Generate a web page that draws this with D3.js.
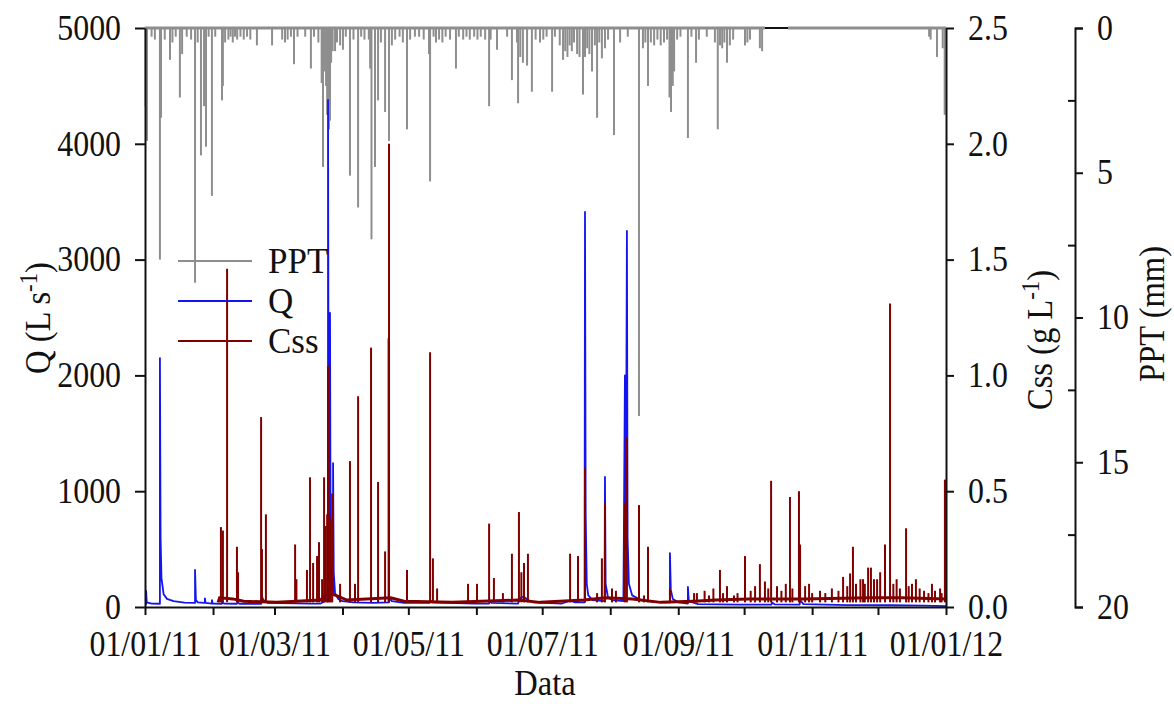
<!DOCTYPE html>
<html>
<head>
<meta charset="utf-8">
<script src="https://cdn.jsdelivr.net/npm/d3@7/dist/d3.min.js"></script>
<style>
  body { margin: 0; background: #fff; }
  svg text { font-family: 'Liberation Serif', 'Times New Roman', serif; fill: #111; }
  .axis path, .axis line { stroke: #111; stroke-width: 2; }
</style>
</head>
<body>
<div id="chart"></div>
<script>
'use strict';

// all x values are days since 01/01/11 (fractional = part of the day)

// discharge Q (L s-1), read point by point off the hydrograph
var qPoints = [
    [0, 25], [0.5, 25], [0.5, 138], [0.8, 40], [3, 30], [6.8, 28], [6.8, 2150], [7.1, 600],
    [7.5, 250], [8.5, 110], [10, 70], [13, 50], [18, 38], [22.8, 35], [22.8, 320], [23.2, 60],
    [24, 40], [27.3, 35], [27.3, 75], [27.6, 35], [30.5, 30], [30.5, 60], [30.8, 30], [35, 28],
    [35.1, 40], [36, 30], [41.9, 28], [42.2, 45], [43, 28], [53, 28], [53.3, 90], [54, 60],
    [56, 35], [75, 30], [80, 30], [81.5, 45], [82.5, 60], [83.4, 60], [83.4, 4380], [83.7, 900],
    [84.1, 300], [84.3, 2540], [84.6, 400], [85.2, 150], [85.7, 120], [85.7, 1243], [86, 300],
    [86.6, 120], [88, 70], [90, 50], [95, 40], [104, 35], [111.2, 40], [111.6, 80], [112.5, 50],
    [118, 35], [129.5, 35], [129.9, 60], [131, 40], [150, 30], [156.8, 30], [157, 50], [158, 35],
    [170, 30], [170.4, 70], [172.5, 90], [174.5, 60], [177, 40], [190, 30], [193.7, 55], [196, 40],
    [200.3, 40], [200.5, 3411], [200.8, 800], [201.3, 200], [202, 100], [204, 60], [209.4, 50],
    [209.6, 1123], [209.9, 200], [211, 80], [213, 60], [218, 50], [218.7, 2000], [219.1, 500],
    [219.6, 3247], [219.9, 600], [220.5, 200], [222, 100], [226, 60], [232, 45], [239.2, 40],
    [239.2, 466], [239.6, 150], [240.5, 70], [243, 40], [247.4, 30], [247.4, 173], [247.8, 50],
    [252, 25], [270, 20], [285.5, 20], [285.7, 40], [287, 22], [298.3, 20], [298.5, 60],
    [300, 25], [320, 17], [340, 15], [355, 12], [365, 8]
];

// suspended sediment Css (g L-1): slow baseline + storm peaks
var cssBase = [
    [33.3, 0.02], [34, 0.04], [40, 0.035], [45, 0.025], [60, 0.02], [80, 0.03], [83, 0.06],
    [87, 0.05], [92, 0.03], [112, 0.04], [118, 0.025], [140, 0.02], [170, 0.03], [180, 0.02],
    [200, 0.03], [210, 0.04], [222, 0.035], [235, 0.02], [250, 0.025], [260, 0.03], [275, 0.035],
    [300, 0.035], [330, 0.04], [345, 0.04], [365, 0.035]
];
var cssPeaks = [
    [34.6, 0.345], [35.5, 0.33], [37.4, 1.46], [41.9, 0.26], [42.4, 0.15], [52.9, 0.82],
    [53.3, 0.25], [55.1, 0.40], [68.4, 0.27], [69.0, 0.12], [73.8, 0.16], [75.2, 0.56],
    [76.6, 0.19], [78.4, 0.22], [79.3, 0.28], [80.7, 0.12], [81.6, 0.56], [82.3, 0.35],
    [83.0, 0.40], [83.4, 1.04], [84.0, 0.40], [84.6, 0.38], [85.3, 0.49], [88.9, 0.10],
    [93.4, 0.63], [95.7, 0.10], [97.1, 0.91], [103.0, 1.12], [106.2, 0.54], [109.4, 0.24],
    [111.0, 1.16], [111.2, 2.0], [119.4, 0.16], [129.9, 1.10], [131.2, 0.21], [133.1, 0.08],
    [147.2, 0.10], [151.3, 0.10], [156.8, 0.36], [159.0, 0.125], [163.1, 0.06], [167.2, 0.23],
    [170.4, 0.41], [171.5, 0.15], [172.7, 0.19], [174.5, 0.23], [193.7, 0.23], [197.3, 0.22],
    [200.5, 0.60], [206.0, 0.06], [208.2, 0.21], [209.6, 0.45], [212.8, 0.08], [214.6, 0.07],
    [218.7, 0.45], [219.6, 0.73], [225.1, 0.44], [227.4, 0.05], [229.2, 0.26], [239.2, 0.08],
    [250.2, 0.06], [251.5, 0.06], [255, 0.07], [257, 0.05], [259, 0.08], [262.0, 0.16],
    [263.4, 0.06], [265.2, 0.09], [268.4, 0.05], [270, 0.06], [273.4, 0.22], [276, 0.07],
    [278, 0.09], [280.2, 0.185], [282.5, 0.11], [284, 0.08], [285.3, 0.545], [288.0, 0.09],
    [290, 0.07], [292, 0.10], [293.9, 0.475], [295, 0.08], [298.0, 0.50], [298.5, 0.27],
    [300.8, 0.09], [302.6, 0.10], [304, 0.06], [307.6, 0.07], [310, 0.06], [313, 0.08],
    [316, 0.07], [318.1, 0.13], [320, 0.09], [321.3, 0.145], [322.6, 0.26], [324, 0.10],
    [326, 0.12], [327.2, 0.12], [328, 0.10], [329.5, 0.17], [330.8, 0.17], [332.2, 0.12],
    [333.6, 0.12], [335, 0.15], [337.2, 0.27], [339.5, 1.31], [341, 0.10], [342.5, 0.12],
    [344.0, 0.08], [346.8, 0.34], [348, 0.09], [349.5, 0.10], [351.3, 0.12], [353, 0.08],
    [355, 0.07], [357, 0.06], [358.6, 0.10], [360, 0.07], [362.3, 0.08], [363, 0.06], [364.5, 0.55]
];

// precipitation PPT (mm), hanging from the top axis
var pptBars = [
    [0.3, 2.7], [0.9, 3.9], [3, 0.3], [4.5, 0.4], [6.8, 8.0], [7.3, 3.1], [9, 0.4], [11.4, 1.1],
    [12.5, 0.5], [14, 0.3], [15.9, 2.4], [16.9, 0.9], [19, 0.3], [21, 0.4], [22.8, 8.8], [24, 0.5],
    [25.5, 4.4], [26.9, 2.7], [27.8, 4.1], [29, 0.3], [30.5, 5.8], [32, 0.3], [35.1, 2.5],
    [35.5, 2.0], [36.5, 0.5], [38, 0.4], [39, 0.3], [40, 0.5], [41, 0.3], [42, 0.4], [43.5, 0.3],
    [45, 0.4], [46.5, 0.3], [48, 0.4], [51.0, 0.6], [57.9, 0.6], [62.5, 0.4], [63.8, 0.5],
    [65, 0.4], [66.5, 0.3], [67.9, 1.25], [69.5, 0.3], [73, 0.3], [75.6, 1.4], [77, 0.3],
    [79, 0.5], [80.5, 1.9], [81.1, 4.8], [81.8, 1.5], [82.5, 2.0], [83.0, 3.0], [83.4, 2.5],
    [83.8, 3.5], [84.3, 3.2], [84.8, 1.2], [85.5, 0.8], [86.6, 0.8], [87.5, 0.5], [88.9, 0.6],
    [90.2, 0.75], [91.5, 0.3], [93.4, 5.1], [95, 0.4], [97.1, 6.2], [98.5, 0.3], [100, 0.4],
    [102, 0.4], [102.6, 1.4], [103.2, 7.3], [104.8, 4.8], [106.2, 2.5], [107.5, 0.5], [109.4, 2.9],
    [111.2, 3.9], [112.5, 0.6], [114, 0.4], [116, 0.3], [117.5, 0.5], [119.4, 3.5], [120.8, 0.4],
    [123, 0.3], [124.9, 0.3], [127, 0.4], [129.4, 0.9], [129.9, 5.3], [131.5, 0.3], [132.6, 0.5],
    [134, 0.4], [135.5, 0.5], [137, 0.3], [139, 0.4], [141.7, 1.4], [143, 0.3], [145, 0.4],
    [146.5, 0.3], [148, 0.4], [150, 0.3], [151.5, 0.4], [153, 0.3], [155, 0.4], [156.8, 2.7],
    [157.5, 0.4], [160.4, 0.75], [165, 0.3], [167.2, 1.8], [169.5, 0.5], [170, 2.6], [171, 1.0],
    [172.2, 1.2], [174.1, 1.3], [176.3, 2.2], [178, 0.4], [180, 0.5], [181.5, 0.4], [183, 0.3],
    [185.5, 2.2], [186.8, 0.3], [189, 0.6], [190.5, 1.1], [191.5, 0.8], [192.5, 1.0], [193.5, 0.6],
    [194.5, 0.8], [195.5, 0.5], [196.9, 0.9], [198, 1.0], [199.6, 2.3], [200.5, 1.0], [201.5, 0.7],
    [202.5, 0.9], [203.7, 1.5], [205, 0.6], [206.0, 3.1], [207, 0.5], [208.2, 1.05], [209.6, 0.7],
    [211, 0.4], [213.7, 3.7], [216.5, 0.5], [220, 0.3], [225.1, 13.4], [226.9, 0.7], [228, 0.5],
    [229.2, 2.0], [230.5, 0.5], [232, 0.6], [233.5, 0.4], [235, 0.6], [236.5, 0.5], [237.9, 0.4],
    [239, 2.4], [239.7, 2.9], [240.5, 2.0], [241.1, 1.5], [242.5, 0.4], [244, 0.3], [247.4, 3.8],
    [249, 0.3], [251.1, 1.2], [252.4, 0.4], [256, 0.3], [259.7, 0.5], [261.0, 3.5], [262, 0.6],
    [263, 0.7], [264, 0.5], [265.2, 1.2], [266.5, 0.6], [268, 0.4], [273.4, 0.6], [274.5, 0.5],
    [275.7, 0.4], [280.2, 0.7], [281.2, 0.8], [357.3, 0.3], [358.0, 0.4], [360.9, 1.0],
    [363.5, 0.7], [364.4, 3.0]
];
// stretches where the PPT record sits on zero (the gap shows the black frame)
var pptZero = [[0, 282.5], [293, 365]];

var qTicks = [0, 1000, 2000, 3000, 4000, 5000];
var cssTicks = [0, 0.5, 1.0, 1.5, 2.0, 2.5];
var pptTicks = [0, 5, 10, 15, 20];
var pptMinorTicks = [2.5, 7.5, 12.5, 17.5];
var dateLabels = ['01/01/11', '01/03/11', '01/05/11', '01/07/11', '01/09/11', '01/11/11', '01/01/12'];

var colors = {ppt: '#8e8e8e', q: '#1414f0', css: '#800000'};

var width = 1174, height = 704;
var margin = {top: 28, left: 145, right: 946, bottom: 607};

var svg = d3.select('#chart')
    .append('svg')
        .attr('width', width)
        .attr('height', height);

var t0 = new Date(2011, 0, 1),
    t1 = new Date(2012, 0, 1);
var dayToDate = function(d) { return new Date(t0.getTime() + d * 864e5); };
var parseLabel = d3.timeParse('%d/%m/%y');

var x = d3.scaleTime().domain([t0, t1]).range([margin.left, margin.right]);
var yQ = d3.scaleLinear().domain([0, 5000]).range([margin.bottom, margin.top]);
var yCss = d3.scaleLinear().domain([0, 2.5]).range([margin.bottom, margin.top]);
var yPpt = d3.scaleLinear().domain([0, 20]).range([margin.top, margin.bottom]);

// the original lettering is a little narrower than Liberation Serif
var squeeze = function(sel, k) {
    sel.each(function() {
        var w = this.getComputedTextLength();
        d3.select(this)
            .attr('textLength', w * k)
            .attr('lengthAdjust', 'spacingAndGlyphs');
    });
};

// top frame (only seen where PPT is missing)
svg.append('line')
    .attr('x1', margin.left).attr('x2', margin.right)
    .attr('y1', margin.top).attr('y2', margin.top)
    .attr('stroke', '#111').attr('stroke-width', 2);

// PPT: zero line and bars
svg.append('g').selectAll('line')
    .data(pptZero)
    .enter().append('line')
        .attr('x1', function(d) { return x(dayToDate(d[0])); })
        .attr('x2', function(d) { return x(dayToDate(d[1])); })
        .attr('y1', yPpt(0)).attr('y2', yPpt(0))
        .attr('stroke', colors.ppt).attr('stroke-width', 3);

svg.append('g').selectAll('line')
    .data(pptBars)
    .enter().append('line')
        .attr('x1', function(d) { return x(dayToDate(d[0])); })
        .attr('x2', function(d) { return x(dayToDate(d[0])); })
        .attr('y1', yPpt(0))
        .attr('y2', function(d) { return yPpt(d[1]); })
        .attr('stroke', colors.ppt).attr('stroke-width', 2);

// Q
var qLine = d3.line()
    .x(function(d) { return x(dayToDate(d[0])); })
    .y(function(d) { return yQ(d[1]); });

svg.append('path')
    .datum(qPoints)
    .attr('d', qLine)
    .attr('fill', 'none')
    .attr('stroke', colors.q)
    .attr('stroke-width', 1.8)
    .attr('stroke-linejoin', 'round');

// Css
var cssLine = d3.line()
    .x(function(d) { return x(dayToDate(d[0])); })
    .y(function(d) { return yCss(d[1]); });

svg.append('path')
    .datum(cssBase)
    .attr('d', cssLine)
    .attr('fill', 'none')
    .attr('stroke', colors.css)
    .attr('stroke-width', 3);

svg.append('g').selectAll('line')
    .data(cssPeaks)
    .enter().append('line')
        .attr('x1', function(d) { return x(dayToDate(d[0])); })
        .attr('x2', function(d) { return x(dayToDate(d[0])); })
        .attr('y1', yCss(0.02))
        .attr('y2', function(d) { return yCss(d[1]); })
        .attr('stroke', colors.css).attr('stroke-width', 2);

// axes
var fontSize = 35;

svg.append('g')
    .attr('class', 'axis')
    .attr('transform', 'translate(' + margin.left + ',0)')
    .call(d3.axisLeft(yQ).tickValues(qTicks).tickFormat(d3.format('d'))
        .tickSize(10).tickSizeOuter(0).tickPadding(14));

svg.append('g')
    .attr('class', 'axis')
    .attr('transform', 'translate(' + margin.right + ',0)')
    .call(d3.axisRight(yCss).tickValues(cssTicks).tickFormat(d3.format('.1f'))
        .tickSize(8).tickSizeOuter(0).tickPadding(14));

var pptX = 1075;
svg.append('g')
    .attr('class', 'axis')
    .attr('transform', 'translate(' + pptX + ',0)')
    .call(d3.axisRight(yPpt).tickValues(pptTicks).tickSize(8).tickPadding(14));

svg.append('g')
    .attr('class', 'axis')
    .attr('transform', 'translate(' + pptX + ',0)')
    .call(d3.axisLeft(yPpt).tickValues(pptMinorTicks).tickSize(7).tickFormat(''))
    .select('.domain').remove();

var labelled = dateLabels.map(function(s) { return +parseLabel(s); });
var fmt = d3.timeFormat('%d/%m/%y');
svg.append('g')
    .attr('class', 'axis')
    .attr('transform', 'translate(0,' + margin.bottom + ')')
    .call(d3.axisBottom(x)
        .tickValues(d3.timeMonth.range(t0, d3.timeDay.offset(t1, 1)))
        .tickFormat(function(d) { return labelled.indexOf(+d) >= 0 ? fmt(d) : ''; })
        .tickSize(8).tickSizeOuter(0).tickPadding(16));

svg.selectAll('.axis text')
    .attr('font-size', fontSize)
    .attr('font-family', "'Liberation Serif', serif")
    .attr('fill', '#111')
    .call(squeeze, 0.91);

// axis titles
var title = function(tx, ty, rot, parts) {
    var t = svg.append('text')
        .attr('transform', 'translate(' + tx + ',' + ty + ') rotate(' + rot + ')')
        .attr('text-anchor', 'middle')
        .attr('font-size', fontSize);
    parts.forEach(function(p) {
        var s = t.append('tspan').text(p[0]);
        if (p[1]) s.attr('baseline-shift', 'super').attr('font-size', fontSize * 0.7);
    });
    return t;
};
title(50, 318, -90, [['Q (L s'], ['-1', true], [')']]).call(squeeze, 0.93);
title(1052, 340, -90, [['Css (g L'], ['-1', true], [')']]).call(squeeze, 0.93);
title(1164, 314, -90, [['PPT (mm)']]).call(squeeze, 0.93);
title(545, 695, 0, [['Data']]).call(squeeze, 0.93);

// legend
var legendItems = [['PPT', colors.ppt], ['Q', colors.q], ['Css', colors.css]];
var legend = svg.append('g').selectAll('g')
    .data(legendItems)
    .enter().append('g')
        .attr('transform', function(d, i) { return 'translate(178,' + (261 + i * 40) + ')'; });
legend.append('line')
    .attr('x1', 0).attr('x2', 74)
    .attr('stroke', function(d) { return d[1]; })
    .attr('stroke-width', 2);
legend.append('text')
    .attr('x', 90)
    .attr('dy', '0.35em')
    .attr('font-size', fontSize)
    .text(function(d) { return d[0]; });
</script>
</body>
</html>
